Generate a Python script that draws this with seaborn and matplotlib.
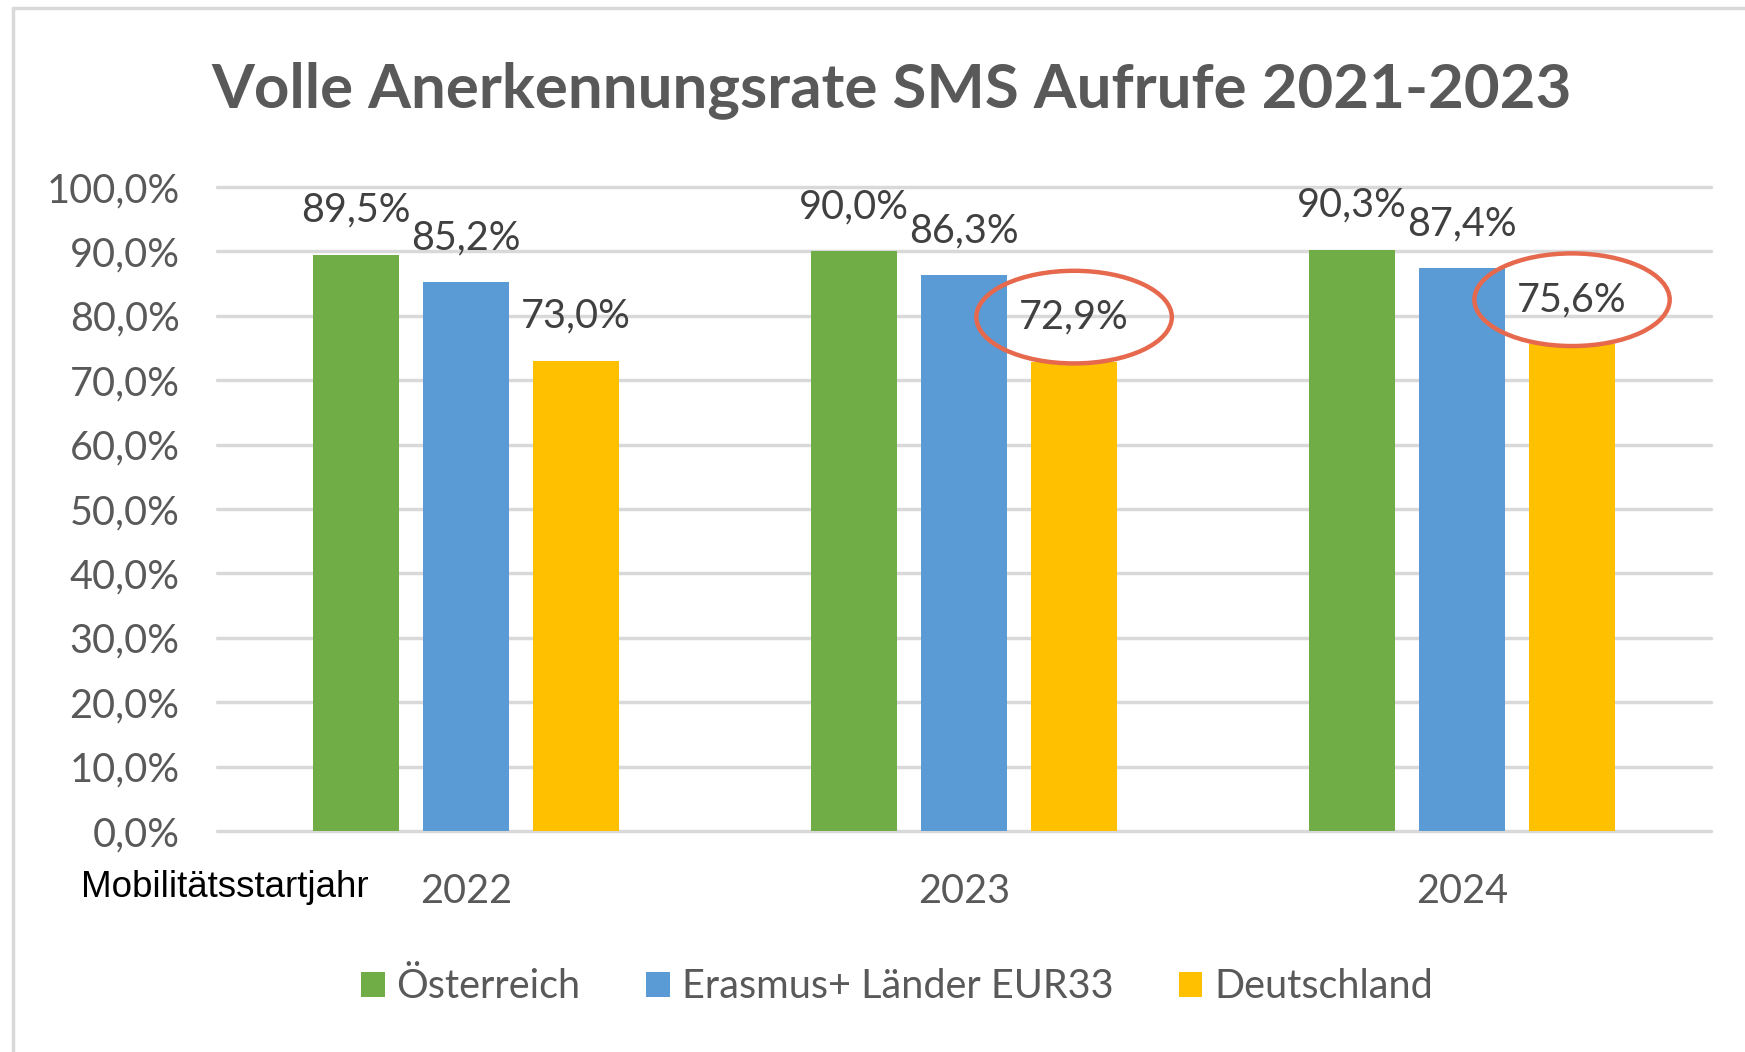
import pandas as pd
import matplotlib.pyplot as plt
import seaborn as sns
from matplotlib.lines import Line2D

# --- data ---
years = ['2022', '2023', '2024']
oesterreich = [89.5, 90.0, 90.3]
eur33 = [85.2, 86.3, 87.4]
deutschland = [73.0, 72.9, 75.6]
series_names = ['Österreich', 'Erasmus+ Länder EUR33', 'Deutschland']
colors = ['#70AD47', '#5B9BD5', '#FFC000']
# values circled in red in the original
highlight = [('Deutschland', '2023'), ('Deutschland', '2024')]

df = pd.DataFrame({
    'Jahr': years * 3,
    'Gruppe': [series_names[0]] * 3 + [series_names[1]] * 3 + [series_names[2]] * 3,
    'Wert': oesterreich + eur33 + deutschland,
})

sns.set_style('white')
plt.rcParams['font.family'] = ['Lato', 'DejaVu Sans']

fig = plt.figure(figsize=(17.45, 10.52), dpi=100)
ax = fig.add_axes([0.1244, 0.2101, 0.8561, 0.6121])

sns.barplot(data=df, x='Jahr', y='Wert', hue='Gruppe', order=years,
            hue_order=series_names, palette=colors, saturation=1,
            width=0.663, gap=0.22, linewidth=0, edgecolor='none',
            legend=False, ax=ax)

ax.set_xlim(-0.5, 2.5)
ax.set_ylim(0, 100)
ax.set_yticks(range(0, 101, 10))
ax.set_yticklabels([f"{v:.1f}%".replace('.', ',') for v in range(0, 101, 10)])
ax.set_xlabel('')
ax.set_ylabel('')
ax.tick_params(axis='both', length=0, labelsize=28.5, labelcolor='#595959')
ax.tick_params(axis='y', pad=27)
ax.tick_params(axis='x', pad=30)

ax.yaxis.grid(True, color='#D9D9D9', linewidth=2.5)
ax.set_axisbelow(True)
for line in ax.get_ygridlines():
    line.set_clip_on(False)
for side in ['top', 'right', 'left', 'bottom']:
    ax.spines[side].set_visible(False)

# data labels above bars
for name, cont in zip(series_names, ax.containers):
    for year, bar in zip(years, cont):
        x = bar.get_x() + bar.get_width() / 2
        h = bar.get_height()
        txt = f"{h:.1f}%".replace('.', ',')
        kw = {}
        if (name, year) in highlight:
            kw['bbox'] = dict(boxstyle='ellipse,pad=0.36', fc='none',
                              ec='#E6694E', lw=3.2)
        ax.annotate(txt, (x, h), xytext=(0, 32), textcoords='offset points',
                    ha='center', va='center', fontsize=28.5, color='#404040',
                    annotation_clip=False, **kw)

fig.text(0.511, 0.914, 'Volle Anerkennungsrate SMS Aufrufe 2021-2023',
         ha='center', va='center', fontsize=44.5, fontweight='bold', color='#595959')

fig.text(0.0464, 0.156, 'Mobilitätsstartjahr', ha='left', va='center',
         fontsize=26.5, color='black', family='Liberation Sans')

handles = [plt.Rectangle((0, 0), 1, 1, fc=c, ec='none') for c in colors]
fig.legend(handles, series_names, loc='center', bbox_to_anchor=(0.514, 0.062),
           ncol=3, frameon=False, fontsize=28.5, labelcolor='#595959',
           handlelength=0.6, handleheight=0.6, handletextpad=0.3,
           columnspacing=1.65)

# light grey frame of the chart area (left and top edges)
fig.add_artist(Line2D([12.5 / 1745, 12.5 / 1745], [0, 1 - 7.5 / 1052],
                      color='#D9D9D9', lw=2.5, transform=fig.transFigure))
fig.add_artist(Line2D([12.5 / 1745, 1], [1 - 7.5 / 1052, 1 - 7.5 / 1052],
                      color='#D9D9D9', lw=2.5, transform=fig.transFigure))

plt.savefig('out.png', dpi=100)
